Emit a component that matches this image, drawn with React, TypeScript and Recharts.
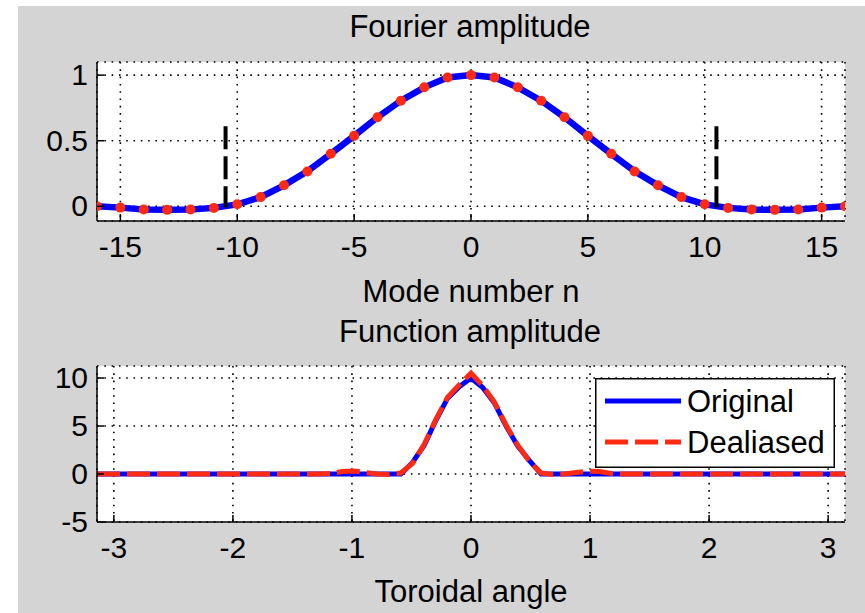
import React from 'react';
import { LineChart, Line, XAxis, YAxis, CartesianGrid, ReferenceLine, Legend } from 'recharts';

// Fourier spectrum, one value per mode number
const modeNumber = [
  -16, -15, -14, -13, -12, -11, -10, -9, -8, -7, -6, -5, -4, -3, -2, -1, 0,
  1, 2, 3, 4, 5, 6, 7, 8, 9, 10, 11, 12, 13, 14, 15, 16,
];
const fourierAmp = [
  0, -0.01, -0.025, -0.027, -0.025, -0.012, 0.015, 0.07, 0.16, 0.266, 0.4, 0.537, 0.679, 0.805, 0.907, 0.982, 1,
  0.982, 0.907, 0.805, 0.679, 0.537, 0.4, 0.266, 0.16, 0.07, 0.015, -0.012, -0.025, -0.027, -0.025, -0.01, 0,
];
// dealiasing cut-off marks
const cutoffModes = [-10.5, 10.5];
const cutoffTop = 0.61;
const cutoffBottom = -0.01;

const modeTicks = [-15, -10, -5, 0, 5, 10, 15];
const ampTicks = [0, 0.5, 1];

// function in real space
const angle = [
  -3.1416, -1.2763, -1.1781, -1.0799, -0.9817, -0.8836, -0.7854, -0.6872, -0.589, -0.4909, -0.3927, -0.2945, -0.1963,
  -0.0982, 0, 0.0982, 0.1963, 0.2945, 0.3927, 0.4909, 0.589, 0.6872, 0.7854, 0.8836, 0.9817, 1.0799, 1.1781, 1.2763,
  3.1416,
];
const original = [
  0, 0, 0, 0, 0, 0, 0, 0, 0, 1.2, 3.0, 5.6, 7.9, 9.1, 10, 9.0, 7.4, 5.0, 2.9, 1.4, 0, 0, 0, 0, 0, 0, 0, 0, 0,
];
const dealiased = [
  0, 0, 0.05, 0.25, 0.3, 0.15, 0, -0.05, 0.1, 1.1, 3.1, 5.7, 8.0, 9.3, 10.5, 9.2, 7.5, 5.1, 3.0, 1.3, 0.1, -0.05, 0,
  0.15, 0.3, 0.25, 0.05, 0, 0,
];
const seriesNames = ['Original', 'Dealiased'];

const angleTicks = [-3, -2, -1, 0, 1, 2, 3];
const funcTicks = [-5, 0, 5, 10];

const fourierRows = modeNumber.map((n, i) => ({ n, amp: fourierAmp[i] }));
const functionRows = angle.map((a, i) => ({ a, original: original[i], dealiased: dealiased[i] }));

const FONT = '"Liberation Sans", Arial, Helvetica, sans-serif';
const GRAY = '#d4d4d4';
const BLUE = '#0000ff';
const RED = '#ff2a12';
const TICK_LEN = 7;
const DASH = '23 7';

const axisLine = { stroke: '#000', strokeWidth: 1.5 };

// MATLAB style ticks: short marks pointing into the box, labels outside
const BottomTick = (props: any) => {
  const { x, y, payload } = props;
  return (
    <g>
      <line x1={x} x2={x} y1={y} y2={y - TICK_LEN} stroke="#000" strokeWidth={1.5} />
      <text x={x} y={y + 36} textAnchor="middle" fontSize={30} fontFamily={FONT} fill="#000">
        {payload.value}
      </text>
    </g>
  );
};

const TopTick = (props: any) => {
  const { x, y } = props;
  return <line x1={x} x2={x} y1={y} y2={y + TICK_LEN} stroke="#000" strokeWidth={1.5} />;
};

const LeftTick = (props: any) => {
  const { x, y, payload } = props;
  return (
    <g>
      <line x1={x} x2={x + TICK_LEN} y1={y} y2={y} stroke="#000" strokeWidth={1.5} />
      <text x={x - 9} y={y + 10} textAnchor="end" fontSize={30} fontFamily={FONT} fill="#000">
        {payload.value}
      </text>
    </g>
  );
};

const RightTick = (props: any) => {
  const { x, y } = props;
  return <line x1={x} x2={x - TICK_LEN} y1={y} y2={y} stroke="#000" strokeWidth={1.5} />;
};

const dashFor: Record<string, string | undefined> = { Original: undefined, Dealiased: DASH };

const LegendBox = (props: any) => {
  const items = [...(props.payload || [])].sort(
    (p: any, q: any) => seriesNames.indexOf(p.value) - seriesNames.indexOf(q.value),
  );
  return (
    <svg width={240} height={90} style={{ display: 'block' }}>
      <rect x={0.75} y={0.75} width={238.5} height={88.5} fill="#fff" stroke="#000" strokeWidth={1.5} />
      {items.map((item: any, i: number) => {
        const cy = 23 + i * 41;
        return (
          <g key={item.value}>
            <line
              x1={10}
              x2={86}
              y1={cy}
              y2={cy}
              stroke={item.color}
              strokeWidth={5}
              strokeDasharray={dashFor[item.value]}
            />
            <text x={92} y={cy + 11} fontSize={31} fontFamily={FONT} fill="#000">
              {item.value}
            </text>
          </g>
        );
      })}
    </svg>
  );
};

const gridProps = { stroke: '#000', strokeWidth: 1.6, strokeDasharray: '1.6 5.7', fill: '#fff' };

export default function App() {
  return (
    <div style={{ position: 'absolute', left: 0, top: 0, width: 865, height: 613, background: '#fff', overflow: 'hidden' }}>
      <div style={{ position: 'absolute', left: 18, top: 6, width: 847, height: 607, background: GRAY }} />
      <svg width={865} height={613} style={{ position: 'absolute', left: 0, top: 0 }}>
        <g fontFamily={FONT} fontSize={31} fill="#000" textAnchor="middle">
          <text x={470} y={37}>Fourier amplitude</text>
          <text x={471} y={302}>Mode number n</text>
          <text x={470} y={342}>Function amplitude</text>
          <text x={471} y={602}>Toroidal angle</text>
        </g>
      </svg>

      <div style={{ position: 'absolute', left: 0, top: 0 }}>
        <LineChart width={865} height={300} data={fourierRows} margin={{ top: 62, right: 20, bottom: 0, left: 0 }}>
          <CartesianGrid {...gridProps} />
          <XAxis
            dataKey="n"
            type="number"
            domain={[-16, 16]}
            ticks={modeTicks}
            interval={0}
            height={79}
            tickSize={0}
            tickMargin={0}
            axisLine={axisLine}
            tick={<BottomTick />}
            allowDataOverflow
          />
          <XAxis
            xAxisId="top"
            orientation="top"
            type="number"
            domain={[-16, 16]}
            ticks={modeTicks}
            interval={0}
            height={0}
            tickSize={0}
            tickMargin={0}
            axisLine={axisLine}
            tick={<TopTick />}
            allowDataOverflow
          />
          <YAxis
            type="number"
            domain={[-0.112, 1.1]}
            ticks={ampTicks}
            interval={0}
            width={97}
            tickSize={0}
            tickMargin={0}
            axisLine={axisLine}
            tick={<LeftTick />}
            allowDataOverflow
          />
          <YAxis
            yAxisId="right"
            orientation="right"
            type="number"
            domain={[-0.112, 1.1]}
            ticks={ampTicks}
            interval={0}
            width={0}
            tickSize={0}
            tickMargin={0}
            axisLine={axisLine}
            tick={<RightTick />}
            allowDataOverflow
          />
          <Line
            dataKey="amp"
            type="linear"
            stroke={BLUE}
            strokeWidth={6.5}
            dot={false}
            activeDot={false}
            isAnimationActive={false}
          />
          <Line
            dataKey="amp"
            type="linear"
            stroke="none"
            strokeWidth={0}
            dot={{ r: 5, fill: RED, stroke: 'none', strokeWidth: 0 }}
            activeDot={false}
            isAnimationActive={false}
          />
          {cutoffModes.map((m) => (
            <ReferenceLine
              key={m}
              segment={[
                { x: m, y: cutoffTop },
                { x: m, y: cutoffBottom },
              ]}
              stroke="#000"
              strokeWidth={4}
              strokeDasharray={DASH}
            />
          ))}
        </LineChart>
      </div>

      <div style={{ position: 'absolute', left: 0, top: 300 }}>
        <LineChart width={865} height={313} data={functionRows} margin={{ top: 66, right: 20, bottom: 0, left: 0 }}>
          <CartesianGrid {...gridProps} />
          <XAxis
            dataKey="a"
            type="number"
            domain={[-Math.PI, Math.PI]}
            ticks={angleTicks}
            interval={0}
            height={91}
            tickSize={0}
            tickMargin={0}
            axisLine={axisLine}
            tick={<BottomTick />}
            allowDataOverflow
          />
          <XAxis
            xAxisId="top"
            orientation="top"
            type="number"
            domain={[-Math.PI, Math.PI]}
            ticks={angleTicks}
            interval={0}
            height={0}
            tickSize={0}
            tickMargin={0}
            axisLine={axisLine}
            tick={<TopTick />}
            allowDataOverflow
          />
          <YAxis
            type="number"
            domain={[-5, 11.25]}
            ticks={funcTicks}
            interval={0}
            width={97}
            tickSize={0}
            tickMargin={0}
            axisLine={axisLine}
            tick={<LeftTick />}
            allowDataOverflow
          />
          <YAxis
            yAxisId="right"
            orientation="right"
            type="number"
            domain={[-5, 11.25]}
            ticks={funcTicks}
            interval={0}
            width={0}
            tickSize={0}
            tickMargin={0}
            axisLine={axisLine}
            tick={<RightTick />}
            allowDataOverflow
          />
          <Line
            name="Original"
            dataKey="original"
            type="linear"
            stroke={BLUE}
            strokeWidth={5}
            dot={false}
            activeDot={false}
            isAnimationActive={false}
          />
          <Line
            name="Dealiased"
            dataKey="dealiased"
            type="linear"
            stroke={RED}
            strokeWidth={5}
            strokeDasharray={DASH}
            dot={false}
            activeDot={false}
            isAnimationActive={false}
          />
          <Legend
            layout="vertical"
            align="center"
            verticalAlign="middle"
            content={<LegendBox />}
            wrapperStyle={{ position: 'absolute', left: 595, top: 78, width: 240, height: 90 }}
          />
        </LineChart>
      </div>
    </div>
  );
}
